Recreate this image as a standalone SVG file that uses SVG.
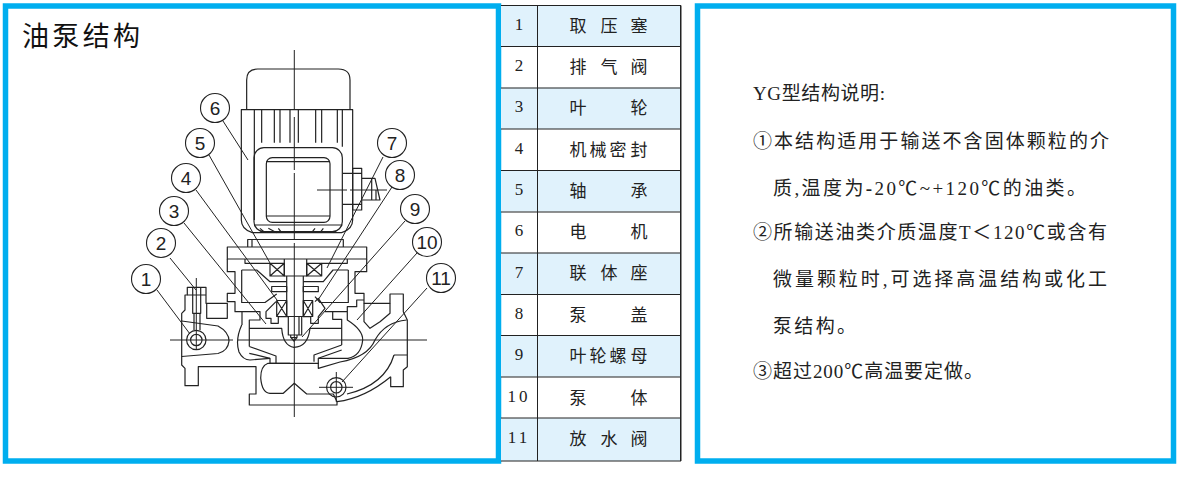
<svg xmlns="http://www.w3.org/2000/svg" width="1200" height="480" viewBox="0 0 1200 480">
<style>
.frame{fill:#fff;stroke:#00aeef;stroke-width:5.5}
.row{fill:#e0f2fc}
.grid{stroke:#222;stroke-width:1;fill:none}
.num{font:17px "Liberation Serif","Noto Sans CJK SC",serif;fill:#222;text-anchor:middle}
.cell{font:17px "Liberation Serif","Noto Sans CJK SC",serif;fill:#222;text-anchor:middle}
.body{font:19px "Liberation Serif","Noto Sans CJK SC",serif;fill:#222}
.title{font:27px "Noto Sans CJK SC",sans-serif;fill:#111}
.d{fill:none;stroke:#222;stroke-width:3.6;stroke-linejoin:round}
.r{fill:none;stroke:#222;stroke-width:1.2;stroke-linejoin:round}
.c{fill:none;stroke:#222;stroke-width:1}
.lead{fill:none;stroke:#222;stroke-width:1}
.bub{fill:#fff;stroke:#222;stroke-width:1.1}
.lab{font:19px "Liberation Sans",sans-serif;fill:#222;text-anchor:middle}
</style>
<g id="frame-left"><rect class="frame" x="5.5" y="6" width="493" height="455"/><text class="title" x="22" y="46" textLength="118">油泵结构</text></g>
<g id="frame-right"><rect class="frame" x="697.5" y="6" width="476" height="455"/></g>
<g id="parts-table">
<rect class="row" x="501" y="5" width="180" height="41.4"/><rect class="row" x="501" y="87.7" width="180" height="41.3"/><rect class="row" x="501" y="170.3" width="180" height="41.3"/><rect class="row" x="501" y="252.9" width="180" height="41.3"/><rect class="row" x="501" y="335.5" width="180" height="41.3"/><rect class="row" x="501" y="418.1" width="180" height="42.9"/>
<path class="grid" d="M501 5.500H681V461H501M501 46.500H681M501 88H681M501 129H681M501 170.500H681M501 212H681M501 253H681M501 294.500H681M501 335.500H681M501 377H681M501 418H681M537.500 5V461M680.500 5V461"/>
<text class="num" x="519" y="30">1</text><text class="cell" x="578 609 639" y="32">取压塞</text>
<text class="num" x="519" y="71">2</text><text class="cell" x="578 609 639" y="73">排气阀</text>
<text class="num" x="519" y="112">3</text><text class="cell" x="578 639" y="114">叶轮</text>
<text class="num" x="519" y="154">4</text><text class="cell" x="578 598 618 639" y="156">机械密封</text>
<text class="num" x="519" y="195">5</text><text class="cell" x="578 639" y="197">轴承</text>
<text class="num" x="519" y="236">6</text><text class="cell" x="578 639" y="238">电机</text>
<text class="num" x="519" y="278">7</text><text class="cell" x="578 609 639" y="279">联体座</text>
<text class="num" x="519" y="319">8</text><text class="cell" x="578 639" y="321">泵盖</text>
<text class="num" x="519" y="360">9</text><text class="cell" x="578 598 618 639" y="362">叶轮螺母</text>
<text class="num" x="519" y="402" letter-spacing="3">10</text><text class="cell" x="578 639" y="404">泵体</text>
<text class="num" x="519" y="443" letter-spacing="3">11</text><text class="cell" x="578 609 639" y="445">放水阀</text>
</g>
<g id="description">
<text class="body" x="753" y="100" textLength="132">YG型结构说明:</text>
<text class="body" x="753" y="148" textLength="356">①本结构适用于输送不含固体颗粒的介</text>
<text class="body" x="773" y="195" textLength="313">质,温度为<tspan font-weight="bold">-</tspan>20℃~+120℃的油类。</text>
<text class="body" x="753" y="239" textLength="354">②所输送油类介质温度T＜120℃或含有</text>
<text class="body" x="773" y="286" textLength="334">微量颗粒时,可选择高温结构或化工</text>
<text class="body" x="773" y="333" textLength="83">泵结构。</text>
<text class="body" x="753" y="378" textLength="230">③超过200℃高温要定做。</text>
</g>
<g id="pump-drawing">
<g id="motor" transform="translate(120 230) scale(.33333)" class="d">
<path d="M380 -362V-450Q380 -483 413 -483H655Q690 -483 690 -450V-362"/>
<path d="M364 -361H698V-30Q698 -2 665 8H397Q364 -2 364 -30Z"/>
<path d="M403 -361V-30M425 -361V-262M463 -361V-262M480 -361V-262M510 -361V-262M535 -361V-262M587 -361V-262M605 -361V-262M652 -361V-262M667 -361V-250"/>
<rect x="402" y="-247" width="265" height="252" rx="30"/>
<rect x="439" y="-217" width="191" height="194" rx="18"/>
<path d="M439 -205H630M439 -42H630"/>
<path d="M402 -15H667M420 -5L435 8M445 -5L470 8M475 -5L485 8M610 -5L600 8M585 -5L575 8"/>
</g>
<g id="terminal" class="r">
<path d="M342.700 173.300H361.700M342.700 204.300H361.700M352.700 168.300H361.700V210H352.700ZM361.700 178.300H375L380 200H361.700M371.700 178.300V200M376 190V200"/>
</g>
<g id="pump" class="r">
<path d="M247.700 247V239.500H343.300V247M252 239.500V247"/>
<rect x="227.300" y="247" width="139.400" height="12"/>
<path d="M245 259V263.300H270M347.300 259V263.300H321.700"/>
<path d="M270 263.300H284.300V276H270ZM306.700 263.300H321.700V276H306.700ZM270 263.300L284.300 276M284.300 263.300L270 276M306.700 263.300L321.700 276M321.700 263.300L306.700 276"/>
<path d="M284.300 259V276H306.700V259M286.700 276V316.500H303.300V276M288.300 316.500V335H301.700V316.500M299 316.500V335M290.700 335V337.500H297V335M291 337.500L294 341L297 337.500"/>
<path d="M271.700 286.500H286.700V291.700H271.700ZM303.300 286.500H318.300V291.700H303.300Z"/>
<path d="M276.700 300.500H286.700V316.500H276.700ZM303.300 300.500H312.700V316.500H303.300ZM276.700 300.500L286.700 316.500M286.700 300.500L276.700 316.500M303.300 300.500L312.700 316.500M312.700 300.500L303.300 316.500"/>
<path d="M241.700 270H256.700L270 281.700H286.700M348.300 270H333L323.300 281.700H303.300"/>
<path d="M241.700 270V302.500H265L276.700 294M348.300 270V302.500H320L315 296.700"/>
<path d="M227.300 259V271.700H235V293.300H227.300V301.700H235V311.700H242V325M366.700 259V271.700H355V293.300H364V303.300H390V294H403.300V311.700L407.300 320V366.700L403.300 370V386.700H390.700V376.700"/>
<path d="M242 311.700H260V320H249.300V346.500M249.300 328.300H281.700Q283 346 294 347.300Q308 347 310 328.300H341.700"/>
<path d="M241.700 325Q235 340 239 352Q243 360 250 360L270 358.300"/>
<path d="M249.300 346.500L276 356V363.300M249.300 353.300L270 358.300V363.300M270 363.300H319"/>
<path d="M276 301.700L266 311.700V318.300H271V323.300H278.300V316.700H289"/>
<path d="M303 316.700H310.700V323.300H318.300V316.700L325 308.300L318.300 298.300L315 301.700M325 311.700H332.700V319.300H341.700V345M332.700 311.700H347.300V306.700H356.700V300H364M347.300 311.700V320Q363 330 362.700 340Q361 356 348 358.300H318.300"/>
<path d="M341.700 345L314 355V361.700M341.700 350L318.300 358.300V368.300L340 362Q368 357 375 340Q385 322 406.700 320"/>
<path d="M364 303.300V321.700L370 328.300L380 321.700L390 313.300V303.300"/>
<path d="M394 355H407M394 355Q385 385 347 394M390.700 376.700Q365 398 337 401.700"/>
<path d="M290 363.300H268Q260.700 366 260.700 378Q262 393 270 393.300H283.300L294.300 383.300L306.700 394H333.300L337 401.700V405H249.300V394H256V366.700H198.300V385.700H185V368.300L181.700 365V313.300L185 310V295H187.300V287.300H206V295H206V303.300H227.300V318.300H206.700V303.300"/>
<path d="M181.700 321L218 326Q229 332 229 341Q228 351 218 353.500L181.700 356.500"/>
<path d="M192.700 295V313.300H200.700V295M194 313.300V330M200 313.300V330M192.700 287.300V295M200.700 287.300V295M187.300 295H206"/>
<circle cx="196.300" cy="340" r="9.700"/><circle cx="196.300" cy="340" r="5.700"/>
<circle cx="336.300" cy="387.300" r="9.700"/><circle cx="336.300" cy="387.300" r="5.700"/>
</g>
<g id="centre-lines" class="c">
<path d="M294.300 50V110M294.300 117V170M294.300 173V240M294.300 243V417M170 340H233M238 340H427M196.300 278V350M336.300 372V402M319 387.300H353M317 190H347M350 190H387"/>
</g>
</g>
<g id="connectors">
<path class="lead" d="M223 121L248 160M209 155L270 263M196 190L277 300M184 223L266 324M170 258L196 290M157 290L190 334M383 157L327 268M392 187L318 300M405 221L302 337M417 253L357 320M427 288L342 382"/>
</g>
<g id="n1"><circle class="bub" cx="146" cy="279" r="14.500"/><text class="lab" x="146" y="285.500">1</text></g>
<g id="n2"><circle class="bub" cx="161" cy="243" r="14.500"/><text class="lab" x="161" y="249.500">2</text></g>
<g id="n3"><circle class="bub" cx="174" cy="211" r="14.500"/><text class="lab" x="174" y="217.500">3</text></g>
<g id="n4"><circle class="bub" cx="186" cy="178" r="14.500"/><text class="lab" x="186" y="184.500">4</text></g>
<g id="n5"><circle class="bub" cx="200" cy="143" r="14.500"/><text class="lab" x="200" y="149.500">5</text></g>
<g id="n6"><circle class="bub" cx="215" cy="108" r="14.500"/><text class="lab" x="215" y="114.500">6</text></g>
<g id="n7"><circle class="bub" cx="392" cy="143" r="14.500"/><text class="lab" x="392" y="149.500">7</text></g>
<g id="n8"><circle class="bub" cx="400" cy="175" r="14.500"/><text class="lab" x="400" y="181.500">8</text></g>
<g id="n9"><circle class="bub" cx="415" cy="209" r="14.500"/><text class="lab" x="415" y="215.500">9</text></g>
<g id="n10"><circle class="bub" cx="427" cy="242" r="14.500"/><text class="lab" x="427" y="248.500">10</text></g>
<g id="n11"><circle class="bub" cx="441" cy="278" r="14.500"/><text class="lab" x="441" y="284.500">11</text></g>
</svg>
